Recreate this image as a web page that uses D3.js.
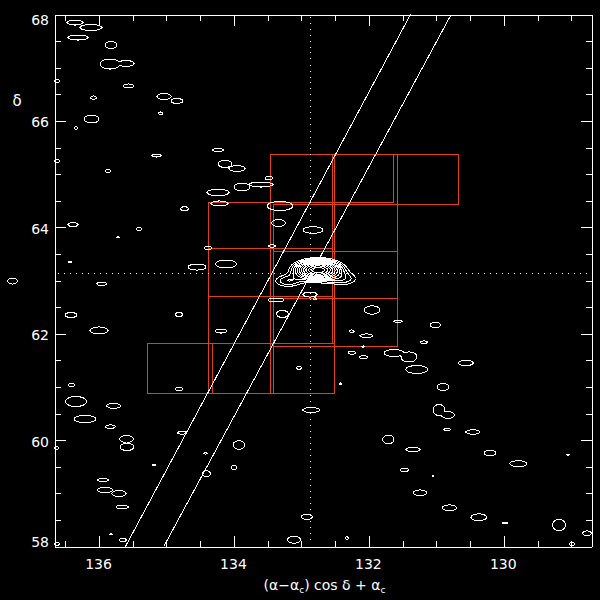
<!DOCTYPE html>
<html><head><meta charset="utf-8">
<script src="https://cdn.jsdelivr.net/npm/d3@7"></script>
<style>body{margin:0;background:#000}svg{display:block}</style>
</head><body>
<svg id="c" width="600" height="600"></svg>
<script>
// ---------- data ----------
const xDomain = [136.66, 128.70];          // RA (deg), reversed
const yDomain = [58, 68];                  // Dec (deg)
const xMajorTicks = [136, 134, 132, 130];
const yMajorTicks = [58, 60, 62, 64, 66, 68];
const xMinorTicks = [136.5, 135.5, 135, 134.5, 133.5, 133, 132.5, 131.5, 131, 130.5, 129.5, 129];
const yMinorTicks = [58.5, 59, 59.5, 60.5, 61, 61.5, 62.5, 63, 63.5, 64.5, 65, 65.5, 66.5, 67, 67.5];
const centre = [132.865, 63.126];          // dotted cross-hair
// two straight tracks: [ra, dec] end points
const tracks = [
  [[135.608, 58], [131.383, 68]],
  [[135.040, 58], [130.780, 68]]
];
// field boxes: [raEast, raWest, decLow, decHigh]
const boxes = [
  [133.454, 132.544, 64.472, 65.363],
  [132.544, 131.631, 64.472, 65.363],
  [134.373, 133.454, 63.596, 64.472],
  [133.454, 132.544, 63.596, 64.472],
  [134.373, 133.454, 62.699, 63.596],
  [133.454, 132.544, 62.699, 63.596],
  [134.373, 133.454, 61.810, 62.699],
  [133.454, 132.544, 61.810, 62.699],
  [134.373, 133.454, 60.870, 61.810],
  [132.505, 131.580, 64.423, 65.363],
  [131.580, 130.676, 64.423, 65.363],
  [133.409, 132.505, 63.545, 64.423],
  [132.505, 131.580, 63.545, 64.423],
  [133.409, 132.505, 62.656, 63.545],
  [132.505, 131.580, 62.656, 63.545],
  [133.409, 132.505, 61.759, 62.656],
  [132.505, 131.580, 61.759, 62.656],
  [135.277, 134.322, 60.870, 61.810],
  [134.322, 133.409, 60.870, 61.810],
  [133.409, 132.505, 60.870, 61.810]
];
// faint single-level contour blobs: [ra, dec, width(deg), height(deg)]
const blobs = [
  [136.349,67.840,0.237,0.094],[136.112,67.746,0.326,0.113],[136.304,67.558,0.296,0.094],
  [135.815,67.417,0.178,0.132],[135.830,67.060,0.296,0.188],[135.593,67.070,0.237,0.113],
  [135.556,66.647,0.163,0.075],[136.616,66.741,0.089,0.056],[136.074,66.427,0.089,0.066],
  [135.029,66.449,0.208,0.113],[134.837,66.365,0.178,0.094],[135.081,66.130,0.059,0.056],
  [136.104,66.026,0.222,0.150],[136.334,65.857,0.059,0.056],[135.141,65.340,0.133,0.056],
  [136.616,65.237,0.089,0.056],[135.860,65.049,0.089,0.056],[134.229,65.444,0.163,0.066],
  [134.125,65.181,0.208,0.132],[133.947,65.096,0.237,0.113],[133.473,64.917,0.119,0.075],
  [133.873,64.748,0.237,0.150],[133.592,64.795,0.356,0.094],[134.229,64.645,0.326,0.122],
  [134.726,64.340,0.119,0.075],[134.207,64.438,0.252,0.094],[133.310,64.391,0.385,0.169],
  [135.400,63.959,0.074,0.066],[133.332,64.072,0.208,0.132],[132.821,63.940,0.296,0.122],
  [134.377,63.602,0.119,0.066],[133.429,63.639,0.119,0.047],[134.540,63.244,0.267,0.113],
  [134.110,63.301,0.311,0.150],[133.369,62.624,0.237,0.075],[132.865,62.727,0.208,0.094],
  [133.273,62.361,0.178,0.132],[134.807,62.352,0.104,0.085],[134.185,62.041,0.178,0.075],
  [133.028,61.346,0.089,0.047],[134.807,60.951,0.119,0.056],[136.378,64.040,0.148,0.075],
  [135.711,63.803,0.030,0.028],[136.423,63.338,0.059,0.028],[135.953,62.929,0.148,0.066],
  [137.275,62.981,0.148,0.113],[136.408,62.342,0.178,0.094],[135.993,62.051,0.267,0.132],
  [136.401,61.026,0.104,0.066],[136.334,60.716,0.311,0.188],[135.775,60.635,0.208,0.094],
  [136.200,60.387,0.326,0.132],[135.823,60.243,0.148,0.066],[135.585,60.011,0.208,0.132],
  [135.578,59.861,0.208,0.132],[136.623,59.842,0.074,0.056],[134.763,60.128,0.133,0.056],
  [135.178,59.523,0.059,0.028],[134.417,59.742,0.059,0.028],[134.400,59.359,0.119,0.113],
  [133.918,59.899,0.178,0.160],[133.992,59.476,0.074,0.085],[135.934,59.241,0.163,0.056],
  [135.904,59.053,0.237,0.094],[135.697,58.987,0.208,0.113],[135.648,58.733,0.188,0.066],
  [135.815,58.220,0.030,0.028],[135.642,58.113,0.104,0.066],[136.616,58.038,0.074,0.056],
  [133.102,58.118,0.193,0.132],[132.846,60.556,0.252,0.094],[130.953,60.556,0.178,0.207],
  [130.820,60.462,0.193,0.132],[130.830,60.190,0.099,0.047],[130.452,60.143,0.208,0.085],
  [131.705,60.002,0.163,0.169],[131.339,59.814,0.208,0.085],[130.197,59.748,0.178,0.103],
  [129.778,59.547,0.252,0.113],[129.041,59.716,0.044,0.028],[131.468,59.429,0.129,0.066],
  [131.038,59.316,0.030,0.028],[131.235,59.000,0.197,0.107],[130.800,58.718,0.218,0.107],
  [132.910,58.551,0.163,0.100],[130.363,58.540,0.233,0.126],[129.975,58.432,0.074,0.038],
  [129.174,58.395,0.193,0.207],[128.759,58.239,0.133,0.088],[128.982,58.038,0.089,0.056],
  [132.317,58.150,0.044,0.047],[131.561,62.224,0.133,0.047],[131.008,62.154,0.159,0.100],
  [131.178,61.831,0.114,0.047],[131.620,61.628,0.296,0.132],[131.398,61.553,0.237,0.188],
  [131.282,61.318,0.326,0.150],[130.556,61.440,0.222,0.100],[130.894,60.989,0.173,0.137],
  [131.946,62.436,0.233,0.156],[132.247,62.036,0.070,0.051],[132.031,61.951,0.188,0.070],
  [132.243,61.634,0.114,0.062],[132.072,61.547,0.123,0.062],[132.075,61.746,0.044,0.028],
  [132.791,62.643,0.059,0.038],[132.410,61.045,0.044,0.038]
];
// bright source: [ra, dec, width at lowest level, height at lowest level, peak]
const source = [
  [132.747, 63.188, 0.85, 0.47, 14],
  [133.191, 62.982, 0.36, 0.20, 2.0],
  [132.377, 63.019, 0.36, 0.20, 1.8]
];
const levels = [1, 1.5, 2.1, 2.8, 3.6, 4.6, 5.8, 7.2, 8.8, 10.5, 12.3];

// ---------- drawing ----------
const W = 600, H = 600;
const L = 54, R = 591, T = 14, B = 546;
const x = d3.scaleLinear().domain(xDomain).range([L, R]);
const y = d3.scaleLinear().domain(yDomain).range([B, T]);
const svg = d3.select('#c');
svg.append('rect').attr('width', W).attr('height', H).attr('fill', '#000');
const g = svg.append('g').attr('transform', 'translate(0.5,0.5)');

function splat(arr, b, mode) {
  const [ra, dec, w, h] = b;
  const peak = b[4] || Math.exp(0.5);
  const cx = x(ra), cy = y(dec);
  const k = Math.sqrt(2 * Math.log(peak));
  const sx = Math.abs(x(ra + w / 2) - cx) / k, sy = Math.abs(y(dec + h / 2) - cy) / k;
  const i0 = Math.max(0, Math.floor(cx - 4 * sx)), i1 = Math.min(W - 1, Math.ceil(cx + 4 * sx));
  const j0 = Math.max(0, Math.floor(cy - 4 * sy)), j1 = Math.min(H - 1, Math.ceil(cy + 4 * sy));
  for (let j = j0; j <= j1; j++) for (let i = i0; i <= i1; i++) {
    const dx = (i + 0.5 - cx) / sx, dy = (j + 0.5 - cy) / sy;
    const v = peak * Math.exp(-0.5 * (dx * dx + dy * dy));
    const idx = j * W + i;
    if (mode === 'max') arr[idx] = Math.max(arr[idx], v); else arr[idx] += v;
  }
}
const noise = new Float64Array(W * H);
blobs.forEach(b => splat(noise, b, 'max'));
const core = new Float64Array(W * H);
source.forEach(b => splat(core, b, 'sum'));

const path = d3.geoPath();
const cg = svg.append('g');
d3.contours().size([W, H]).thresholds([1])(noise).forEach(c =>
  cg.append('path').attr('d', path(c)).attr('fill', 'none').attr('stroke', '#fff')
    .attr('stroke-width', 1).attr('shape-rendering', 'crispEdges'));
d3.contours().size([W, H]).thresholds(levels)(core).forEach(c =>
  cg.append('path').attr('d', path(c)).attr('fill', 'none').attr('stroke', '#fff')
    .attr('stroke-width', 1).attr('shape-rendering', 'crispEdges'));

// boxes
const red = '#e0401a';
g.selectAll('rect.box').data(boxes).join('rect').attr('class', 'box')
  .attr('x', d => Math.round(x(d[0]))).attr('y', d => Math.round(y(d[3])))
  .attr('width', d => Math.round(x(d[1])) - Math.round(x(d[0])))
  .attr('height', d => Math.round(y(d[2])) - Math.round(y(d[3])))
  .attr('fill', 'none').attr('stroke', red).attr('stroke-width', 1).attr('shape-rendering', 'crispEdges');

// tracks
const line = d3.line().x(d => x(d[0])).y(d => y(d[1]));
g.selectAll('path.track').data(tracks).join('path').attr('class', 'track')
  .attr('d', line).attr('fill', 'none').attr('stroke', '#fff').attr('stroke-width', 1)
  .attr('shape-rendering', 'crispEdges');

// dotted cross-hair
g.append('line').attr('x1', Math.round(x(centre[0]))).attr('x2', Math.round(x(centre[0])))
  .attr('y1', T + 2).attr('y2', B - 2).attr('stroke', '#fff').attr('stroke-dasharray', '1,5')
  .attr('shape-rendering', 'crispEdges');
g.append('line').attr('y1', Math.round(y(centre[1]))).attr('y2', Math.round(y(centre[1])))
  .attr('x1', L + 3).attr('x2', R - 3).attr('stroke', '#fff').attr('stroke-dasharray', '1,5')
  .attr('shape-rendering', 'crispEdges');

// axes
function axis(gen, tx, ty, vals, size) {
  const a = g.append('g').attr('transform', `translate(${tx},${ty})`)
    .call(gen.tickValues(vals).tickSize(size).tickSizeOuter(0).tickFormat(''));
  a.select('.domain').attr('stroke', '#fff').attr('shape-rendering', 'crispEdges');
  a.selectAll('line').attr('stroke', '#fff').attr('shape-rendering', 'crispEdges');
  return a;
}
axis(d3.axisBottom(x), 0, B, xMajorTicks, -11);
axis(d3.axisBottom(x), 0, B, xMinorTicks, -6);
axis(d3.axisTop(x), 0, T, xMajorTicks, -11);
axis(d3.axisTop(x), 0, T, xMinorTicks, -6);
axis(d3.axisLeft(y), L, 0, yMajorTicks, -11);
axis(d3.axisLeft(y), L, 0, yMinorTicks, -6);
axis(d3.axisRight(y), R, 0, yMajorTicks, -11);
axis(d3.axisRight(y), R, 0, yMinorTicks, -6);

const font = '"DejaVu Sans", sans-serif';
svg.append('g').selectAll('text').data(xMajorTicks).join('text')
  .attr('x', d => x(d)).attr('y', 569).attr('text-anchor', 'middle')
  .attr('fill', '#fff').attr('font-family', font).attr('font-size', 14).text(d => d);
svg.append('g').selectAll('text').data(yMajorTicks).join('text')
  .attr('x', 49).attr('y', d => Math.min(Math.max(y(d) + 7, T + 11), B + 1)).attr('text-anchor', 'end')
  .attr('fill', '#fff').attr('font-family', font).attr('font-size', 14).text(d => d);

// titles
const xt = svg.append('text').attr('x', (L + R) / 2 + 2).attr('y', 590).attr('text-anchor', 'middle')
  .attr('fill', '#fff').attr('font-family', font).attr('font-size', 14);
xt.append('tspan').text('(α−α');
xt.append('tspan').attr('font-size', 9).attr('dy', 3).text('c');
xt.append('tspan').attr('dy', -3).text(') cos δ + α');
xt.append('tspan').attr('font-size', 9).attr('dy', 3).text('c');
svg.append('text').attr('x', 17).attr('y', 106).attr('text-anchor', 'middle')
  .attr('fill', '#fff').attr('font-family', font).attr('font-size', 15).text('δ');
</script>
</body></html>
